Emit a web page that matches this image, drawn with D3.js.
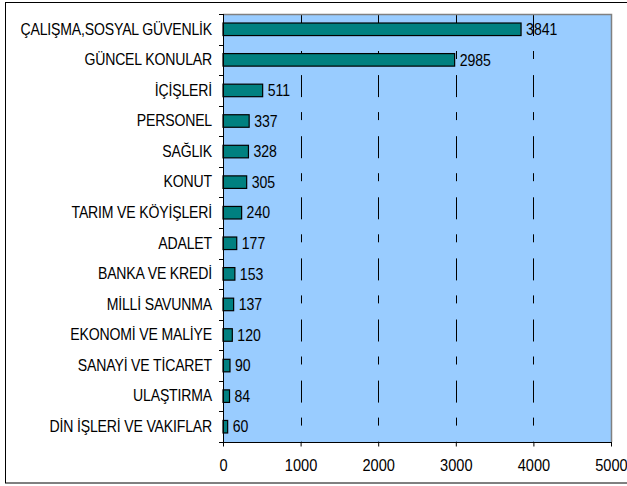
<!DOCTYPE html>
<html>
<head>
<meta charset="utf-8">
<script src="https://cdn.jsdelivr.net/npm/d3@7/dist/d3.min.js"></script>
<style>
  html, body { margin: 0; padding: 0; background: #fff; }
  svg { display: block; font-family: "Liberation Sans", Arial, sans-serif; }
</style>
</head>
<body>
<svg id="chart" width="627" height="486"></svg>
<script>
// Committee topics and the number of items for each
const categories = [
  "ÇALIŞMA,SOSYAL GÜVENLİK",
  "GÜNCEL KONULAR",
  "İÇİŞLERİ",
  "PERSONEL",
  "SAĞLIK",
  "KONUT",
  "TARIM VE KÖYİŞLERİ",
  "ADALET",
  "BANKA VE KREDİ",
  "MİLLİ SAVUNMA",
  "EKONOMİ VE MALİYE",
  "SANAYİ VE TİCARET",
  "ULAŞTIRMA",
  "DİN İŞLERİ VE VAKIFLAR"
];
const values = [3841, 2985, 511, 337, 328, 305, 240, 177, 153, 137, 120, 90, 84, 60];
const xTicks = [0, 1000, 2000, 3000, 4000, 5000];

const svg = d3.select("#chart");
const plot = { left: 223, right: 611, top: 14, bottom: 442 };

// Narrow, tall lettering
const SX = 0.88;

// Outer frame
svg.append("rect")
  .attr("x", 5.5).attr("y", 2.5)
  .attr("width", 640).attr("height", 480.5)
  .attr("fill", "#fff").attr("stroke", "#000").attr("stroke-width", 1);

const x = d3.scaleLinear().domain([0, 5000]).range([plot.left, plot.right]);
const y = d3.scaleBand().domain(categories).range([plot.top, plot.bottom]).paddingInner(0.59).paddingOuter(0.295);
const yb = d3.scaleBand().domain(categories).range([plot.top, plot.bottom]).padding(0);

// Plot background
svg.append("rect")
  .attr("x", plot.left).attr("y", plot.top)
  .attr("width", plot.right - plot.left).attr("height", plot.bottom - plot.top)
  .attr("fill", "#99CCFF");

// Vertical dash-dot gridlines
svg.append("g").selectAll("line")
  .data(xTicks.filter(d => d > 0 && d < 5000))
  .join("line")
  .attr("x1", d => Math.round(x(d)) + 0.5).attr("x2", d => Math.round(x(d)) + 0.5)
  .attr("y1", plot.top).attr("y2", plot.bottom)
  .attr("stroke", "#000").attr("stroke-width", 1)
  .attr("stroke-dasharray", "22,15,8,16.1");

// Plot border (top and right in grey)
svg.append("path")
  .attr("d", `M${plot.left},${plot.top + 0.5}H${plot.right + 0.5}V${plot.bottom}`)
  .attr("fill", "none").attr("stroke", "#808080").attr("stroke-width", 1.5);

// Bars
svg.append("g").selectAll("rect")
  .data(values)
  .join("rect")
  .attr("x", plot.left)
  .attr("y", (d, i) => y(categories[i]))
  .attr("width", d => x(d) - plot.left)
  .attr("height", y.bandwidth())
  .attr("fill", "#008080")
  .attr("stroke", "#000").attr("stroke-width", 1.2);

// Value labels
svg.append("g").selectAll("text")
  .data(values)
  .join("text")
  .attr("transform", (d, i) => `translate(${x(d) + 5},${y(categories[i]) + y.bandwidth() / 2}) scale(${SX},1)`)
  .attr("dy", "0.36em")
  .attr("font-size", 16)
  .attr("fill", "#000")
  .text(d => d);

// Y axis: ticks at category boundaries
const yAxis = svg.append("g");
yAxis.append("line")
  .attr("x1", plot.left + 0.5).attr("x2", plot.left + 0.5)
  .attr("y1", plot.top).attr("y2", plot.bottom)
  .attr("stroke", "#000");
yAxis.selectAll("line.tick")
  .data(categories.map(c => yb(c)).concat([plot.bottom]))
  .join("line").attr("class", "tick")
  .attr("x1", plot.left - 4).attr("x2", plot.left)
  .attr("y1", d => Math.round(d) + 0.5).attr("y2", d => Math.round(d) + 0.5)
  .attr("stroke", "#000");
yAxis.selectAll("text")
  .data(categories)
  .join("text")
  .attr("transform", d => `translate(${plot.left - 11},${yb(d) + yb.bandwidth() / 2 - 0.5}) scale(${SX},1)`)
  .attr("dy", "0.36em")
  .attr("text-anchor", "end")
  .attr("font-size", 16)
  .attr("letter-spacing", "-0.2")
  .attr("fill", "#000")
  .text(d => d);

// X axis
const xAxis = d3.axisBottom(x).tickValues(xTicks).tickSize(4).tickFormat(d3.format("d"));
const gx = svg.append("g")
  .attr("transform", `translate(0,${plot.bottom + 0.5})`)
  .call(xAxis);
gx.select(".domain").attr("stroke", "#000").attr("d", `M${plot.left},0H${plot.right + 1}`);
gx.selectAll(".tick line").attr("stroke", "#000");
gx.selectAll("text")
  .attr("y", null).attr("dy", null)
  .attr("transform", "translate(0,28.5) scale(0.86,1)")
  .attr("font-size", 17)
  .attr("font-family", "Liberation Sans, Arial, sans-serif")
  .attr("fill", "#000");
</script>
</body>
</html>
